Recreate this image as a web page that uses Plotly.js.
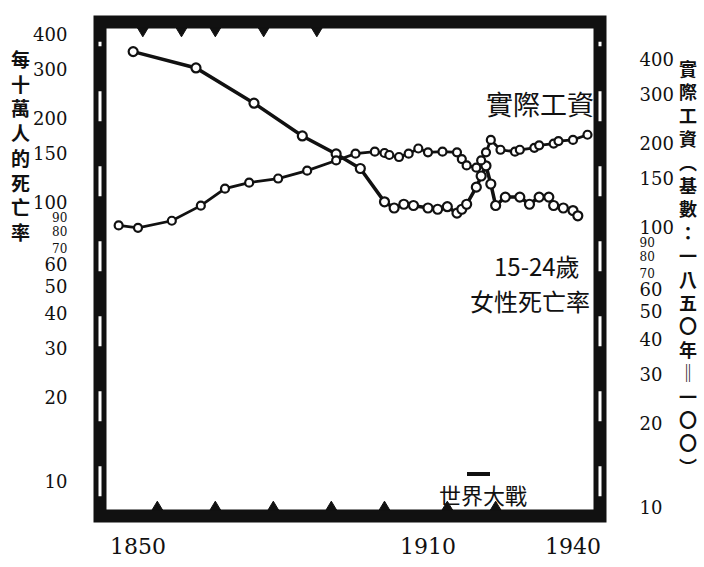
<!DOCTYPE html>
<html>
<head>
<meta charset="utf-8">
<script src="https://cdn.plot.ly/plotly-3.0.1.min.js"></script>
<style>body{margin:0;background:#fff}</style>
</head>
<body>
<div id="chart" style="width:704px;height:567px"></div>
<script>
// ---- data ----
const deathYears = [1849,1862,1874,1884,1891,1896,1901,1903,1905,1907,1910,1912,1914,1916,1917,1918,1920,1921,1922,1923,1924,1926,1929,1931,1933,1935,1936,1938,1940,1941];
const deathRate  = [349,305,228,174,150,133,101,96,99,98,96,95,97,92,95,99,114,125,136,117,98,105,105,99,105,105,98,96,94,90];

const wageYears = [1846,1850,1857,1863,1868,1873,1879,1885,1891,1895,1899,1901,1902,1904,1906,1908,1910,1913,1916,1917,1918,1920,1921,1922,1923,1925,1928,1929,1932,1933,1936,1937,1940,1943];
const wageIndex = [102,100,106,120,138,145,150,160,174,184,187,185,182,179,184,192,186,187,186,176,167,164,174,186,206,190,187,190,193,197,200,204,206,215];

const xTickVals = [1850,1910,1940];
const yTickVals = [10,20,30,40,50,60,70,80,90,100,150,200,300,400];
const smallTicks = [70,80,90];
const yTickText = yTickVals.map(v => smallTicks.includes(v) ? '<span style="font-size:12px">'+v+'</span>' : String(v));

// decorative notches on the frame (years)
const bottomNotchYears = [1854,1866,1878,1890,1901,1914,1924];
const topNotchYears    = [1851,1859,1866,1876,1887];

const leftTitle  = ['每','十','萬','人','的','死','亡','率'];
const rightTitle = ['實','際','工','資','︵','基','數','：','一','八','五','〇','年','‖','一','〇','〇','︶'];

const INK = '#111';
const cjk = '"Noto Sans CJK TC", "Noto Sans CJK SC", sans-serif';

const traces = [
  {
    x: deathYears, y: deathRate, yaxis: 'y', type: 'scatter', mode: 'lines+markers',
    line: {color: INK, width: 3.5},
    marker: {symbol: 'circle', size: 9, color: '#fff', line: {color: INK, width: 2.2}},
    hoverinfo: 'skip'
  },
  {
    x: wageYears, y: wageIndex, yaxis: 'y2', type: 'scatter', mode: 'lines+markers',
    line: {color: INK, width: 2.8},
    marker: {symbol: 'circle', size: 8, color: '#fff', line: {color: INK, width: 2.2}},
    hoverinfo: 'skip'
  }
];

const yAxisCommon = {
  type: 'log', tickmode: 'array', tickvals: yTickVals, ticktext: yTickText,
  ticks: 'outside', tickcolor: 'rgba(0,0,0,0)', showgrid: false, zeroline: false, showline: false,
  tickfont: {family: 'DejaVu Serif', size: 18, color: INK}
};

function ann(x, y, text, size, extra) {
  return Object.assign({xref: 'paper', yref: 'paper', x: x, y: y, text: text, showarrow: false,
    xanchor: 'center', yanchor: 'middle', font: {family: cjk, size: size, color: INK}}, extra || {});
}

function notch(year, top) {
  const b = top ? 0.988 : 0.012, a = top ? 0.97 : 0.03;
  return {type: 'path', xref: 'x', yref: 'paper',
    path: 'M ' + (year - 1.1) + ',' + b + ' L ' + (year + 1.1) + ',' + b + ' L ' + year + ',' + a + ' Z',
    fillcolor: INK, line: {color: INK, width: 1}};
}

const shapes = [
  {type: 'rect', xref: 'paper', yref: 'paper', x0: 0, x1: 1, y0: 0, y1: 1, line: {color: INK, width: 13}},
  {type: 'line', xref: 'paper', yref: 'paper', x0: 0, x1: 0, y0: 0.04, y1: 0.96, line: {color: '#fff', width: 3, dash: '30px,45px'}},
  {type: 'line', xref: 'paper', yref: 'paper', x0: 1, x1: 1, y0: 0.04, y1: 0.96, line: {color: '#fff', width: 3, dash: '30px,45px'}},
  {type: 'line', xref: 'paper', yref: 'paper', x0: 0.734, x1: 0.78, y0: 0.085, y1: 0.085, line: {color: INK, width: 4}}
].concat(bottomNotchYears.map(y => notch(y, false)), topNotchYears.map(y => notch(y, true)));

const layout = {
  width: 704, height: 567,
  margin: {l: 100, r: 104, t: 22, b: 51, pad: 0},
  paper_bgcolor: '#fff', plot_bgcolor: '#fff', showlegend: false,
  font: {family: 'DejaVu Serif', color: INK},
  xaxis: {
    range: [1842.14, 1945.59], tickmode: 'array', tickvals: xTickVals, ticktext: xTickVals.map(String),
    ticks: 'outside', ticklen: 11, tickcolor: 'rgba(0,0,0,0)',
    showgrid: false, zeroline: false, showline: false,
    tickfont: {family: 'DejaVu Serif', size: 22, color: INK}
  },
  yaxis: Object.assign({}, yAxisCommon, {range: [0.878, 2.649], ticklen: 28}),
  yaxis2: Object.assign({}, yAxisCommon, {range: [0.971, 2.735], ticklen: 35, overlaying: 'y', side: 'right'}),
  shapes: shapes,
  annotations: [
    ann(0.88, 0.836, '實際工資', 27),
    ann(0.874, 0.508, '15-24歲', 24),
    ann(0.86, 0.437, '女性死亡率', 24),
    ann(0.766, 0.044, '世界大戰', 22),
    ann(-0.16, 0.751, leftTitle.join('<br>'), 19, {font: {family: cjk, size: 19, color: INK, weight: 'bold'}}),
    ann(1.176, 0.504, rightTitle.join('<br>'), 18, {font: {family: cjk, size: 18, color: INK, weight: 'bold'}})
  ]
};

Plotly.newPlot('chart', traces, layout, {staticPlot: true, displayModeBar: false});
</script>
</body>
</html>
